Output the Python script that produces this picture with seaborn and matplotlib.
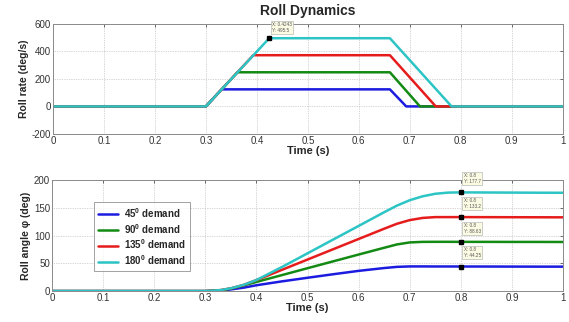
"""Roll Dynamics: roll rate and roll angle for four demand levels."""
import matplotlib
matplotlib.use("Agg")
import matplotlib.pyplot as plt
import numpy as np
import pandas as pd
import seaborn as sns

# ---- data ----
DEMANDS = ["45$^0$ demand", "90$^0$ demand", "135$^0$ demand", "180$^0$ demand"]
COLORS = ["#1c1ce0", "#138a13", "#e61c1c", "#2cc4c4"]

# roll rate (deg/s) corner points per demand
RATE_T = [
    [0, 0.3, 0.331, 0.661, 0.693, 1.0],
    [0, 0.3, 0.362, 0.661, 0.720, 1.0],
    [0, 0.3, 0.393, 0.661, 0.751, 1.0],
    [0, 0.3, 0.4243, 0.661, 0.782, 1.0],
]
RATE_V = [
    [0, 0, 124, 124, 0, 0],
    [0, 0, 248, 248, 0, 0],
    [0, 0, 372, 372, 0, 0],
    [0, 0, 495.5, 495.5, 0, 0],
]

# roll angle (deg)
ANGLE_T = [0, 0.3, 0.33, 0.35, 0.375, 0.4, 0.45, 0.5, 0.55, 0.6, 0.65,
           0.675, 0.7, 0.725, 0.75, 0.775, 0.8, 0.85, 0.9, 0.95, 1.0]
ANGLE_45 = [0, 0, 0.8, 3.0, 6.2, 10.5, 17.5, 24.0, 30.3, 36.4, 41.5,
            43.6, 44.4, 44.4, 44.3, 44.3, 44.25, 44.2, 44.1, 44.0, 44.0]
ANGLE_90 = [0, 0, 1.2, 4.5, 10.2, 16.5, 28.8, 41.2, 53.5, 65.8, 78.0,
            84.0, 87.6, 88.6, 88.7, 88.7, 88.63, 88.6, 88.5, 88.5, 88.4]
ANGLE_135 = [0, 0, 1.8, 5.0, 11.1, 19.8, 38.3, 56.8, 75.3, 93.8, 112.3,
             121.2, 127.8, 131.7, 133.2, 133.2, 133.2, 133.1, 133.0, 132.9, 132.8]
ANGLE_180 = [0, 0, 1.8, 5.0, 11.2, 19.9, 43.4, 68.0, 92.7, 117.3, 142.0,
             153.9, 163.6, 170.6, 175.2, 177.3, 177.7, 177.5, 177.3, 177.1, 177.0]

TIP_TOP = (0.4243, 495.5)
TIP_X = 0.8
TIP_Y = [177.7, 133.2, 88.63, 44.25]
TIP_LABELS = ["177.7", "133.2", "88.63", "44.25"]

XTICKS = [0, 0.1, 0.2, 0.3, 0.4, 0.5, 0.6, 0.7, 0.8, 0.9, 1.0]
XTICKLABELS = ["0", "0.1", "0.2", "0.3", "0.4", "0.5", "0.6", "0.7", "0.8", "0.9", "1"]

sns.set_style("white")
plt.rcParams["font.family"] = ["Liberation Sans", "DejaVu Sans"]
plt.rcParams["mathtext.fontset"] = "custom"
plt.rcParams["mathtext.rm"] = "Liberation Sans:bold"
plt.rcParams["mathtext.it"] = "Liberation Sans:bold"
plt.rcParams["axes.unicode_minus"] = False

TICK_COLOR = "#333333"
TIP_BOX = dict(boxstyle="square,pad=0.25", fc="#fbfbe4", ec="#aaaaaa", lw=0.4)

rate_df = pd.concat([
    pd.DataFrame({"t": t, "v": v, "demand": d})
    for t, v, d in zip(RATE_T, RATE_V, DEMANDS)
])
angle_df = pd.concat([
    pd.DataFrame({"t": ANGLE_T, "v": v, "demand": d})
    for v, d in zip([ANGLE_45, ANGLE_90, ANGLE_135, ANGLE_180], DEMANDS)
])
palette = dict(zip(DEMANDS, COLORS))

fig = plt.figure(figsize=(5.69, 3.22), dpi=100)
ax1 = fig.add_axes([0.093, 0.584, 0.896, 0.342])
ax2 = fig.add_axes([0.0915, 0.096, 0.898, 0.345])


def style(ax, ylim, yticks, ylabel):
    ax.set_xlim(0, 1)
    ax.set_ylim(*ylim)
    ax.set_xticks(XTICKS)
    ax.set_xticklabels(XTICKLABELS)
    ax.set_yticks(yticks)
    ax.tick_params(direction="in", length=2.5, width=0.5, labelsize=7,
                   colors=TICK_COLOR, pad=1.5, top=True, right=True)
    ax.grid(True, color="#b0b0b0", linestyle=(0, (1, 1.5)), linewidth=0.5)
    for sp in ax.spines.values():
        sp.set_edgecolor("#8a8a8a")
        sp.set_linewidth(0.7)
    ax.set_xlabel("Time (s)", fontsize=8, fontweight="bold", labelpad=0)
    ax.set_ylabel(ylabel, fontsize=7.5, fontweight="bold", labelpad=2)


sns.lineplot(data=rate_df, x="t", y="v", hue="demand", palette=palette,
             sort=False, estimator=None, linewidth=1.8, legend=False, ax=ax1)
style(ax1, (-200, 600), [-200, 0, 200, 400, 600], "Roll rate (deg/s)")
ax1.set_title("Roll Dynamics", fontsize=10, fontweight="bold", pad=6)
ax1.plot(*TIP_TOP, marker="s", color="black", markersize=2.5)
ax1.annotate(f"X: {TIP_TOP[0]}\nY: {TIP_TOP[1]}", xy=TIP_TOP, xytext=(2, 4),
             textcoords="offset points", fontsize=3.3, color="#555555",
             ha="left", va="bottom", bbox=TIP_BOX, annotation_clip=False)

sns.lineplot(data=angle_df, x="t", y="v", hue="demand", palette=palette,
             sort=False, estimator=None, linewidth=1.8, ax=ax2)
style(ax2, (0, 200), [0, 50, 100, 150, 200], "Roll angle φ (deg)")
for y, lab in zip(TIP_Y, TIP_LABELS):
    ax2.plot(TIP_X, y, marker="s", color="black", markersize=2.5)
    ax2.annotate(f"X: {TIP_X}\nY: {lab}", xy=(TIP_X, y), xytext=(2, 6),
                 textcoords="offset points", fontsize=3.3, color="#555555",
                 ha="left", va="bottom", bbox=TIP_BOX)

leg = ax2.legend(loc="upper left", bbox_to_anchor=(0.072, 0.845),
                 frameon=True, fancybox=False, edgecolor="#777777",
                 handlelength=2.1, handletextpad=0.6, borderpad=0.4,
                 labelspacing=0.2, prop={"weight": "bold", "size": 7})
leg.get_frame().set_linewidth(0.6)

fig.savefig("out.png", dpi=100, facecolor="white")
